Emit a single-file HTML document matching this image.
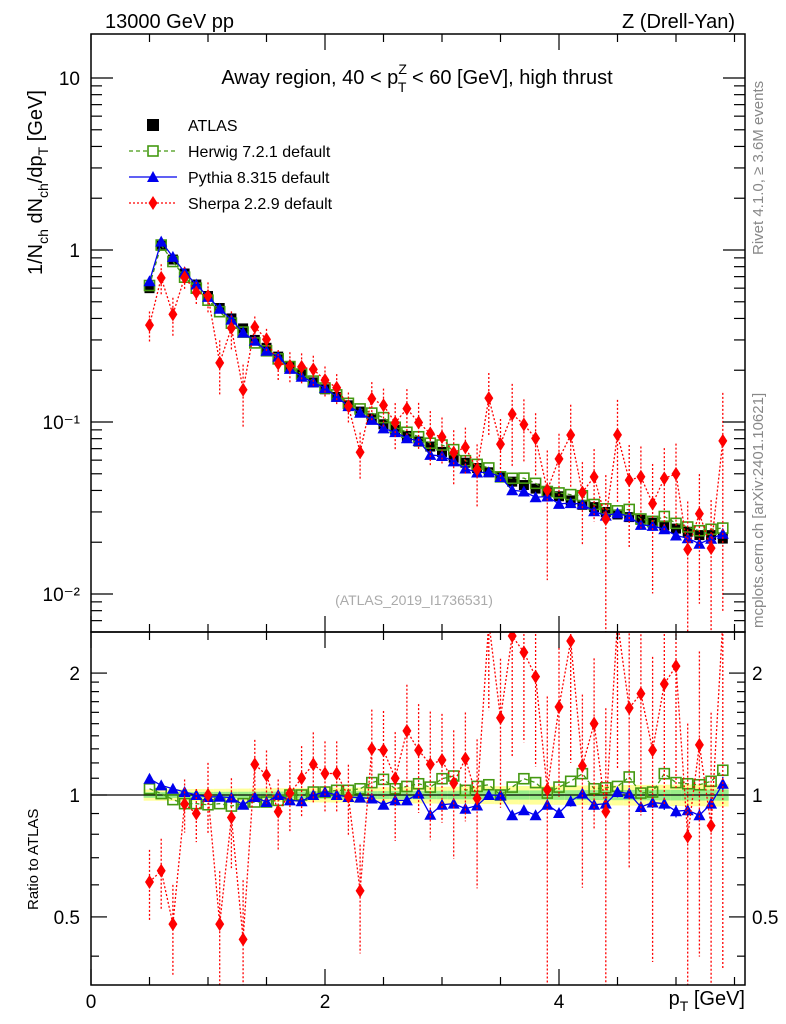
<!DOCTYPE html>
<html><head><meta charset="utf-8">
<style>
html,body{margin:0;padding:0;background:#fff;overflow:hidden;width:786px;height:1024px;}
svg{display:block;font-family:"Liberation Sans",sans-serif;}
</style></head>
<body>
<svg id="chart" width="786" height="1024" viewBox="0 0 786 1024" xmlns="http://www.w3.org/2000/svg">
<text x="105" y="28" font-size="20">13000 GeV pp</text>
<text x="735" y="28" font-size="20" text-anchor="end">Z (Drell-Yan)</text>
<text x="417" y="84" font-size="20" text-anchor="middle">Away region, 40 &lt; p<tspan font-size="14" dy="-10">Z</tspan><tspan font-size="14" dx="-9" dy="18">T</tspan><tspan dy="-8"> &lt; 60 [GeV], high thrust</tspan></text>
<text x="414" y="605" font-size="14" fill="#aaa" text-anchor="middle">(ATLAS_2019_I1736531)</text>
<text transform="translate(763,255) rotate(-90)" font-size="15" fill="#888">Rivet 4.1.0, ≥ 3.6M events</text>
<text transform="translate(763,628) rotate(-90)" font-size="15" fill="#888">mcplots.cern.ch [arXiv:2401.10621]</text>
<text transform="translate(42,275) rotate(-90)" font-size="20">1/N<tspan font-size="14" dy="6">ch</tspan><tspan dy="-6"> dN</tspan><tspan font-size="14" dy="6">ch</tspan><tspan dy="-6">/dp</tspan><tspan font-size="14" dy="6">T</tspan><tspan dy="-6"> [GeV]</tspan></text>
<text transform="translate(38,910) rotate(-90)" font-size="15">Ratio to ATLAS</text>
<text x="745" y="1005" font-size="20" text-anchor="end">p<tspan font-size="14" dy="6">T</tspan><tspan dy="-6"> [GeV]</tspan></text>
<g id="g"></g>
</svg>
<script>
const xs = [0.5,0.6,0.7,0.8,0.9,1.0,1.1,1.2,1.3,1.4,1.5,1.6,1.7,1.8,1.9,2.0,2.1,2.2,2.3,2.4,2.5,2.6,2.7,2.8,2.9,3.0,3.1,3.2,3.3,3.4,3.5,3.6,3.7,3.8,3.9,4.0,4.1,4.2,4.3,4.4,4.5,4.6,4.7,4.8,4.9,5.0,5.1,5.2,5.3,5.4];
const atlas = [0.6,1.06,0.88,0.73,0.63,0.54,0.46,0.4,0.35,0.3,0.27,0.24,0.21,0.19,0.17,0.155,0.14,0.125,0.115,0.105,0.097,0.09,0.083,0.077,0.072,0.067,0.062,0.058,0.054,0.051,0.048,0.045,0.043,0.041,0.039,0.037,0.035,0.033,0.032,0.03,0.029,0.028,0.027,0.026,0.025,0.024,0.023,0.022,0.022,0.021];
const herwigRatio = [1.036,1.008,0.974,0.952,0.952,0.946,0.952,0.939,0.952,0.961,0.961,0.97,1.0,1.0,1.017,1.017,1.027,1.027,1.036,1.073,1.093,1.036,1.05,1.066,1.046,1.097,1.114,1.027,1.05,1.06,1.0,1.046,1.097,1.073,1.011,1.046,1.081,1.129,1.036,1.042,1.05,1.108,1.011,1.017,1.129,1.073,1.066,1.06,1.081,1.151];
const pythiaRatio = [1.097,1.056,1.036,1.017,1.0,0.989,0.99,0.985,0.946,0.989,0.961,1.0,0.97,0.965,1.0,1.017,1.0,0.989,0.985,0.98,0.946,0.97,0.97,1.008,0.894,0.946,0.952,0.925,0.942,1.0,0.998,0.891,0.917,0.891,0.946,0.903,0.965,1.008,0.946,0.952,1.017,1.008,0.934,0.958,0.952,0.912,0.917,0.891,0.952,1.066];
const sherpaRatio = [0.61,0.65,0.48,0.95,0.9,1.0,0.48,0.88,0.44,1.19,1.12,0.91,1.01,1.1,1.19,1.13,1.13,0.99,0.58,1.3,1.29,1.1,1.44,1.29,1.19,1.22,1.07,1.23,0.98,2.7,1.55,2.47,2.25,1.96,1.03,1.65,2.4,1.18,1.5,0.91,2.9,1.64,1.78,1.29,1.88,2.08,0.79,1.33,0.84,3.7];
const sherpaErr = [0.2,0.2,0.25,0.15,0.15,0.2,0.35,0.25,0.4,0.15,0.15,0.2,0.2,0.2,0.2,0.2,0.2,0.2,0.3,0.25,0.25,0.3,0.3,0.3,0.35,0.3,0.35,0.3,0.4,0.4,0.4,0.5,0.4,0.4,0.7,0.4,0.5,0.5,0.45,0.8,0.6,0.6,0.5,0.7,0.5,0.5,0.9,0.7,0.9,0.9];
const pythiaErr = [0.01,0.01,0.01,0.01,0.01,0.01,0.01,0.01,0.01,0.01,0.01,0.01,0.01,0.01,0.015,0.015,0.015,0.015,0.015,0.015,0.02,0.02,0.02,0.02,0.02,0.02,0.02,0.02,0.02,0.025,0.025,0.025,0.025,0.025,0.025,0.025,0.03,0.03,0.03,0.03,0.03,0.03,0.03,0.03,0.035,0.035,0.035,0.035,0.035,0.04];
const yTickLabels = ["10","1","10\u207B\u00B9","10\u207B\u00B2"];
const xTickLabels = ["0","2","4"];
const ratioTickLabels = ["0.5","1","2"];

const NS="http://www.w3.org/2000/svg";
const g=document.getElementById('g');
function el(tag,attrs,parent){const e=document.createElementNS(NS,tag);for(const k in attrs)e.setAttribute(k,attrs[k]);(parent||g).appendChild(e);return e;}
const L=91,R=745,T1=34,B1=632,T2=632,B2=985;
const X=v=>L+v*117;
const Y=v=>250-Math.log10(v)*172;
const RY=v=>795-Math.log10(v)*405;
const clamp=(y,a,b)=>Math.max(a,Math.min(b,y));

const defs=el('defs',{});
const c1=el('clipPath',{id:'c1'},defs);el('rect',{x:L,y:T1,width:R-L,height:B1-T1},c1);
const c2=el('clipPath',{id:'c2'},defs);el('rect',{x:L,y:T2,width:R-L,height:B2-T2},c2);

const band=el('g',{'clip-path':'url(#c2)'});


xs.forEach((x,i)=>{const e=0.02+i*0.0004;
  el('rect',{x:X(x)-5.85,y:RY(1+e*1.6),width:11.7,height:RY(1-e*1.6)-RY(1+e*1.6),fill:'#ffff99'},band);
  el('rect',{x:X(x)-5.85,y:RY(1+e*0.8),width:11.7,height:RY(1-e*0.8)-RY(1+e*0.8),fill:'#99ee88'},band);
});
el('line',{x1:L,x2:R,y1:RY(1),y2:RY(1),stroke:'#000','stroke-width':1.2});

function series(panel,vals,errs,color,dash,marker,name){
  const grp=el('g',{'clip-path':panel==1?'url(#c1)':'url(#c2)'});
  
  
  const Yf=panel==1?Y:RY;
  const top=panel==1?T1:T2, bot=panel==1?B1:B2;
  const Yc=v=>clamp(Yf(v),top-10,bot);
  if(errs) xs.forEach((x,i)=>{el('line',{x1:X(x),x2:X(x),y1:Yc(vals[i]*(1+errs[i])),y2:Yc(Math.max(0.001,vals[i]*(1-errs[i]))),stroke:color,'stroke-width':1.3,'stroke-dasharray':dash||''},grp);});
  if(color!=='#000'){el('polyline',{points:xs.map((x,i)=>X(x)+','+Yc(vals[i])).join(' '),fill:'none',stroke:color,'stroke-width':1.3,'stroke-dasharray':dash||''},grp);}
  xs.forEach((x,i)=>{const cx=X(x),cy=Yc(vals[i]);
    if(marker==='sq') el('rect',{x:cx-5,y:cy-5,width:10,height:10,fill:'#000'},grp);
    else if(marker==='osq') el('rect',{x:cx-5,y:cy-5,width:10,height:10,fill:'none',stroke:'#449911','stroke-width':1.6},grp);
    else if(marker==='tri') el('polygon',{points:`${cx},${cy-6} ${cx-6},${cy+5} ${cx+6},${cy+5}`,fill:'#0000ee'},grp);
    else el('polygon',{points:`${cx},${cy-7} ${cx-4.5},${cy} ${cx},${cy+7} ${cx+4.5},${cy}`,fill:'#ff0000'},grp);
  });
}
const herwig=atlas.map((a,i)=>a*herwigRatio[i]);
const pythia=atlas.map((a,i)=>a*pythiaRatio[i]);
const sherpa=atlas.map((a,i)=>a*sherpaRatio[i]);
series(1,atlas,null,'#000','', 'sq','atlas-data');
series(1,herwig,null,'#449911','4,3','osq','herwig-series');
series(1,pythia,null,'#0000ee','','tri','pythia-series');
series(1,sherpa,sherpaErr,'#ff0000','2,2','dia','sherpa-series');
series(2,herwigRatio,null,'#449911','4,3','osq','herwig-ratio');
series(2,pythiaRatio,pythiaErr,'#0000ee','','tri','pythia-ratio');
series(2,sherpaRatio,sherpaErr,'#ff0000','2,2','dia','sherpa-ratio');

el('rect',{x:L,y:T1,width:R-L,height:B1-T1,fill:'none',stroke:'#000','stroke-width':1.5});
el('rect',{x:L,y:T2,width:R-L,height:B2-T2,fill:'none',stroke:'#000','stroke-width':1.5});

for(let v=0;v<=5.5;v+=0.5){const big=(v%2===0);const len=big?16:8;
  [[T1,1],[B1,-1],[T2,1],[B2,-1]].forEach(([y,d])=>el('line',{x1:X(v),x2:X(v),y1:y,y2:y+d*len,stroke:'#000','stroke-width':1.2}));}
xTickLabels.forEach((t,i)=>{const tx=el('text',{x:X(i*2),y:1008,'font-size':19,'text-anchor':'middle'});tx.textContent=t;
  
  });

for(let e=-3;e<=1;e++){for(let m=1;m<10;m++){const v=m*Math.pow(10,e);const y=Y(v);if(y<T1||y>B1)continue;const len=m===1?22:11;
  el('line',{x1:L,x2:L+len,y1:y,y2:y,stroke:'#000','stroke-width':1.2});el('line',{x1:R,x2:R-len,y1:y,y2:y,stroke:'#000','stroke-width':1.2});}}
[10,1,0.1,0.01].forEach((v,i)=>{const tx=el('text',{x:80,y:Y(v)+7,'font-size':19,'text-anchor':'end'});tx.textContent=yTickLabels[i];
  
  });

[0.4,0.5,0.6,0.7,0.8,0.9,1,1.1,1.2,1.3,1.4,1.5,1.6,1.7,1.8,1.9,2].forEach(v=>{const y=RY(v);if(y<T2||y>B2)return;const len=(v===0.5||v===1||v===2)?16:8;
  el('line',{x1:L,x2:L+len,y1:y,y2:y,stroke:'#000','stroke-width':1.2});el('line',{x1:R,x2:R-len,y1:y,y2:y,stroke:'#000','stroke-width':1.2});});
[0.5,1,2].forEach((v,i)=>{
  const a=el('text',{x:80,y:RY(v)+7,'font-size':19,'text-anchor':'end'});a.textContent=ratioTickLabels[i];
  
  
  const b=el('text',{x:752,y:RY(v)+7,'font-size':19});b.textContent=ratioTickLabels[i];
  
  });

const leg=el('g',{});


const entries=[['ATLAS','sq','#000',''],['Herwig 7.2.1 default','osq','#449911','4,3'],['Pythia 8.315 default','tri','#0000ee',''],['Sherpa 2.2.9 default','dia','#ff0000','2,2']];
entries.forEach((en,i)=>{const y=125+i*26;const cx=153;
  const eg=el('g',{},leg);
  
  
  if(i>0) el('line',{x1:129,x2:177,y1:y,y2:y,stroke:en[2],'stroke-width':1.3,'stroke-dasharray':en[3]},eg);
  if(en[1]==='sq') el('rect',{x:cx-6,y:y-6,width:12,height:12,fill:'#000'},eg);
  else if(en[1]==='osq') el('rect',{x:cx-5,y:y-5,width:10,height:10,fill:'#fff',stroke:'#449911','stroke-width':1.6},eg);
  else if(en[1]==='tri') el('polygon',{points:`${cx},${y-6} ${cx-6},${y+5} ${cx+6},${y+5}`,fill:'#0000ee'},eg);
  else el('polygon',{points:`${cx},${y-7} ${cx-4.5},${y} ${cx},${y+7} ${cx+4.5},${y}`,fill:'#ff0000'},eg);
  const t=el('text',{x:188,y:y+6,'font-size':16},eg);t.textContent=en[0];});
</script>
</body></html>
